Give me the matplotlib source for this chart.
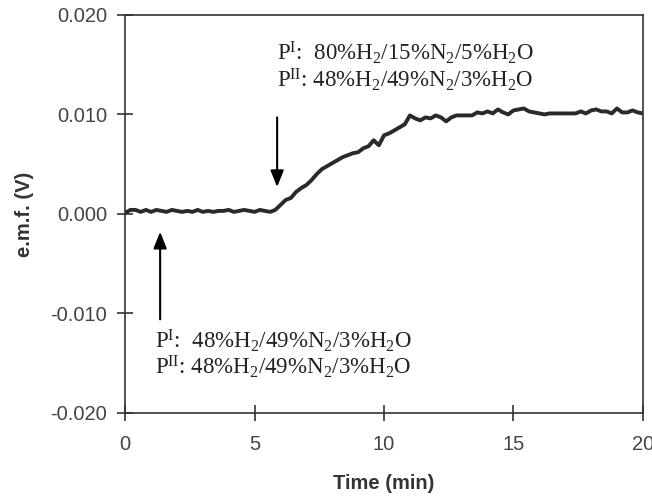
import matplotlib
matplotlib.use("Agg")
import matplotlib.pyplot as plt

plt.rcParams['mathtext.fontset'] = 'custom'
plt.rcParams['mathtext.rm'] = 'Liberation Serif'
plt.rcParams['mathtext.it'] = 'Liberation Serif:italic'
plt.rcParams['mathtext.bf'] = 'Liberation Serif:bold'

time_min = [0.0, 0.2, 0.4, 0.6, 0.8, 1.0, 1.2, 1.4, 1.6, 1.8, 2.0, 2.2, 2.4, 2.6, 2.8,
            3.0, 3.2, 3.4, 3.6, 3.8, 4.0, 4.2, 4.4, 4.6, 4.8, 5.0, 5.2, 5.4, 5.6, 5.8,
            6.0, 6.2, 6.4, 6.6, 6.8, 7.0, 7.2, 7.4, 7.6, 7.8, 8.0, 8.2, 8.4, 8.6, 8.8,
            9.0, 9.2, 9.4, 9.6, 9.8, 10.0, 10.2, 10.4, 10.6, 10.8, 11.0, 11.2, 11.4, 11.6, 11.8,
            12.0, 12.2, 12.4, 12.6, 12.8, 13.0, 13.2, 13.4, 13.6, 13.8, 14.0, 14.2, 14.4, 14.6, 14.8,
            15.0, 15.2, 15.4, 15.6, 15.8, 16.0, 16.2, 16.4, 16.6, 16.8, 17.0, 17.2, 17.4, 17.6, 17.8,
            18.0, 18.2, 18.4, 18.6, 18.8, 19.0, 19.2, 19.4, 19.6, 19.8, 20.0]
emf_V = [0.0001, 0.0004, 0.0004, 0.0002, 0.0004, 0.0002, 0.0004, 0.0003, 0.0002, 0.0004,
         0.0003, 0.0002, 0.0003, 0.0002, 0.0004, 0.0002, 0.0003, 0.0002, 0.0003, 0.0003,
         0.0004, 0.0002, 0.0003, 0.0004, 0.0003, 0.0002, 0.0004, 0.0003, 0.0002, 0.0004,
         0.0009, 0.0014, 0.0016, 0.0022, 0.0026, 0.0029, 0.0034, 0.0040, 0.0045, 0.0048,
         0.0051, 0.0054, 0.0057, 0.0059, 0.0061, 0.0062, 0.0066, 0.0068, 0.0074, 0.0069,
         0.0079, 0.0081, 0.0084, 0.0087, 0.0090, 0.0099, 0.0096, 0.0094, 0.0097, 0.0096,
         0.0099, 0.0097, 0.0093, 0.0097, 0.0099, 0.0099, 0.0099, 0.0099, 0.0102, 0.0101,
         0.0103, 0.0101, 0.0105, 0.0102, 0.0100, 0.0104, 0.0105, 0.0106, 0.0103, 0.0102,
         0.0101, 0.0100, 0.0101, 0.0101, 0.0101, 0.0101, 0.0101, 0.0101, 0.0103, 0.0101,
         0.0104, 0.0105, 0.0103, 0.0103, 0.0101, 0.0106, 0.0102, 0.0102, 0.0104, 0.0102,
         0.0101]

x_ticks = [0, 5, 10, 15, 20]
y_ticks = [-0.020, -0.010, 0.000, 0.010, 0.020]
y_tick_labels = ["-0.020", "-0.010", "0.000", "0.010", "0.020"]

label_upper = [r"P$^{\mathrm{I}}$:  80%H$_{2}$/15%N$_{2}$/5%H$_{2}$O",
               r"P$^{\mathrm{II}}$: 48%H$_{2}$/49%N$_{2}$/3%H$_{2}$O"]
label_lower = [r"P$^{\mathrm{I}}$:  48%H$_{2}$/49%N$_{2}$/3%H$_{2}$O",
               r"P$^{\mathrm{II}}$: 48%H$_{2}$/49%N$_{2}$/3%H$_{2}$O"]

fig = plt.figure(figsize=(6.52, 4.98), dpi=100)
ax = fig.add_axes([0.192, 0.171, 0.794, 0.799])

dark = '#333333'
ax.plot(time_min, emf_V, color='#2a2a2a', lw=2.8, solid_joinstyle='round')

ax.set_xlim(0, 20)
ax.set_ylim(-0.020, 0.020)
ax.set_xticks(x_ticks)
ax.set_yticks(y_ticks)
ax.set_yticklabels(y_tick_labels)
for s in ax.spines.values():
    s.set_color(dark)
    s.set_linewidth(1.2)
ax.tick_params(direction='inout', length=12, width=1.2, color=dark,
               labelsize=14.5, labelcolor='#444444')
ax.tick_params(axis='y', pad=7)
ax.tick_params(axis='x', pad=10)
for lab in ax.get_xticklabels() + ax.get_yticklabels():
    lab.set_fontfamily('Liberation Sans')

ax.set_xlabel("Time (min)", fontsize=14.5, fontweight='bold', family='Liberation Sans',
              color=dark, labelpad=14)
ax.set_ylabel("e.m.f. (V)", fontsize=14.5, fontweight='bold', family='Liberation Sans',
              color=dark, labelpad=12)

arrow_kw = dict(arrowstyle='-|>,head_length=1.0,head_width=0.4', color='black', lw=1.5,
                shrinkA=0, shrinkB=0)
ax.annotate("", xy=(5.87, 0.0027), xytext=(5.87, 0.0097), arrowprops=arrow_kw)
ax.annotate("", xy=(1.35, -0.0018), xytext=(1.35, -0.0106), arrowprops=arrow_kw)

tkw = dict(fontsize=16.5, family='Liberation Serif', va='center', ha='left', color='#222222')
ax.text(5.87, 0.0162, label_upper[0], **tkw)
ax.text(5.87, 0.0135, label_upper[1], **tkw)
ax.text(1.16, -0.0128, label_lower[0], **tkw)
ax.text(1.16, -0.0154, label_lower[1], **tkw)

fig.savefig("out.png", dpi=100)
